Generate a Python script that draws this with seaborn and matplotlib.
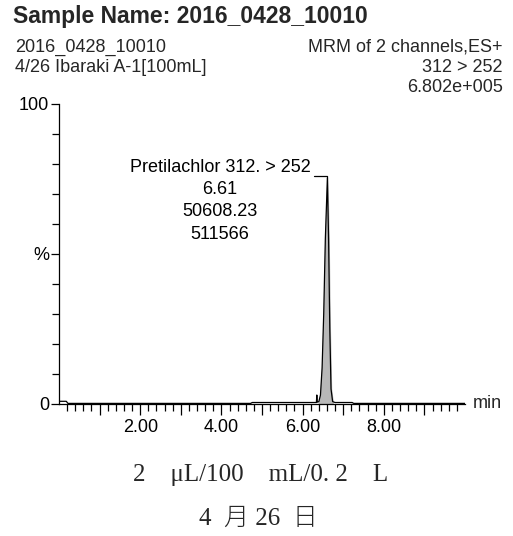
import matplotlib
matplotlib.use("Agg")
import matplotlib.pyplot as plt
import seaborn as sns
import numpy as np
import pandas as pd
from matplotlib.ticker import FixedLocator, FuncFormatter

# ---- data ----
rt_min = [0.00, 0.18, 0.22, 4.72, 4.76, 5.90, 6.30, 6.34, 6.35, 6.36, 6.40,
          6.44, 6.48, 6.52, 6.56, 6.61, 6.64, 6.67, 6.70, 6.74, 6.80, 7.22, 7.26, 10.00]
intensity_pct = [0.9, 0.9, 0.2, 0.2, 0.5, 0.5, 0.5, 0.5, 3.0, 0.6, 0.8,
                 3.0, 12.0, 30.0, 55.0, 75.2, 55.0, 25.0, 5.0, 0.8, 0.5, 0.5, 0.2, 0.2]
peak_label = ["Pretilachlor 312. > 252", "6.61", "50608.23", "511566"]
peak_rt = 6.61
peak_height = 75.2
title = "Sample Name: 2016_0428_10010"
left_header = ["2016_0428_10010", "4/26 Ibaraki A-1[100mL]"]
right_header = ["MRM of 2 channels,ES+", "312 > 252", "6.802e+005"]
x_labels = {2: "2.00", 4: "4.00", 6: "6.00", 8: "8.00"}
y_labels = {0: "0", 50: "%", 100: "100"}
caption = ["2    \u03bcL/100    mL/0. 2    L", "4  月 26  日"]

df = pd.DataFrame({"rt": rt_min, "pct": intensity_pct})

sns.set_style("white")
plt.rcParams["font.family"] = ["Liberation Sans", "DejaVu Sans"]

W, H = 513, 536
fig = plt.figure(figsize=(W / 100, H / 100), dpi=100)

def fx(px):
    return px / W

def fy(py):
    return 1 - py / H

ax_left, ax_right, ax_top, ax_bottom = 59, 465, 104, 404
ax = fig.add_axes([fx(ax_left), fy(ax_bottom), fx(ax_right - ax_left), (ax_bottom - ax_top) / H])

sns.lineplot(data=df, x="rt", y="pct", ax=ax, color="black", linewidth=0.9, estimator=None, sort=False)
pk = df[(df.rt >= 6.38) & (df.rt <= 6.76)]
ax.fill_between(pk.rt, 0, pk.pct, color="#b8b8b8", zorder=1)

ax.set_xlim(0, 10)
ax.set_ylim(0, 100)
ax.set_xlabel("")
ax.set_ylabel("")
for s in ["top", "right"]:
    ax.spines[s].set_visible(False)
for s in ["left", "bottom"]:
    ax.spines[s].set_linewidth(0.9)
    ax.spines[s].set_color("black")

ax.tick_params(which="both", bottom=True, left=True, top=False, right=False, colors="black")

ax.xaxis.set_major_locator(FixedLocator(list(range(1, 10))))
ax.xaxis.set_minor_locator(FixedLocator([round(0.2 * i, 1) for i in range(1, 50) if i % 5 != 0]))
ax.xaxis.set_major_formatter(FuncFormatter(lambda v, p: x_labels.get(int(round(v)), "")))
ax.tick_params(axis="x", which="major", direction="out", length=8, width=0.9, pad=3, labelsize=13)
ax.tick_params(axis="x", which="minor", direction="out", length=5, width=0.9)

ax.yaxis.set_major_locator(FixedLocator([0, 50, 100]))
ax.yaxis.set_minor_locator(FixedLocator([10, 20, 30, 40, 60, 70, 80, 90]))
ax.yaxis.set_major_formatter(FuncFormatter(lambda v, p: y_labels.get(int(round(v)), "")))
ax.tick_params(axis="y", which="major", direction="out", length=6, width=0.9, pad=1, labelsize=13)
ax.tick_params(axis="y", which="minor", direction="out", length=5, width=0.9)

# peak annotation
ly = [79.0, 71.6, 64.0, 56.4]
for t, yv in zip(peak_label, ly):
    ax.text(3.97, yv, t, ha="center", va="center", fontsize=13, color="black")
ax.plot([6.28, peak_rt, peak_rt], [76.0, 76.0, peak_height], color="black", linewidth=0.9)

ax.text(1.02, 0.0, "min", transform=ax.transAxes, ha="left", va="center", fontsize=13)

# header
fig.text(fx(13), fy(16), title, ha="left", va="center", fontsize=16.5, fontweight="bold")
for t, py in zip(left_header, [47, 67]):
    fig.text(fx(15), fy(py), t, ha="left", va="center", fontsize=13)
for t, py in zip(right_header, [47, 67, 88]):
    fig.text(fx(503), fy(py), t, ha="right", va="center", fontsize=13)

# caption
cap_family = ["Liberation Serif", "Noto Sans CJK JP"]
fig.text(fx(261), fy(475), caption[0], ha="center", va="center", fontsize=18,
         family=cap_family, fontweight="light")
fig.text(fx(258), fy(519), caption[1], ha="center", va="center", fontsize=18,
         family=cap_family, fontweight="light")

fig.savefig("out.png", dpi=100)
